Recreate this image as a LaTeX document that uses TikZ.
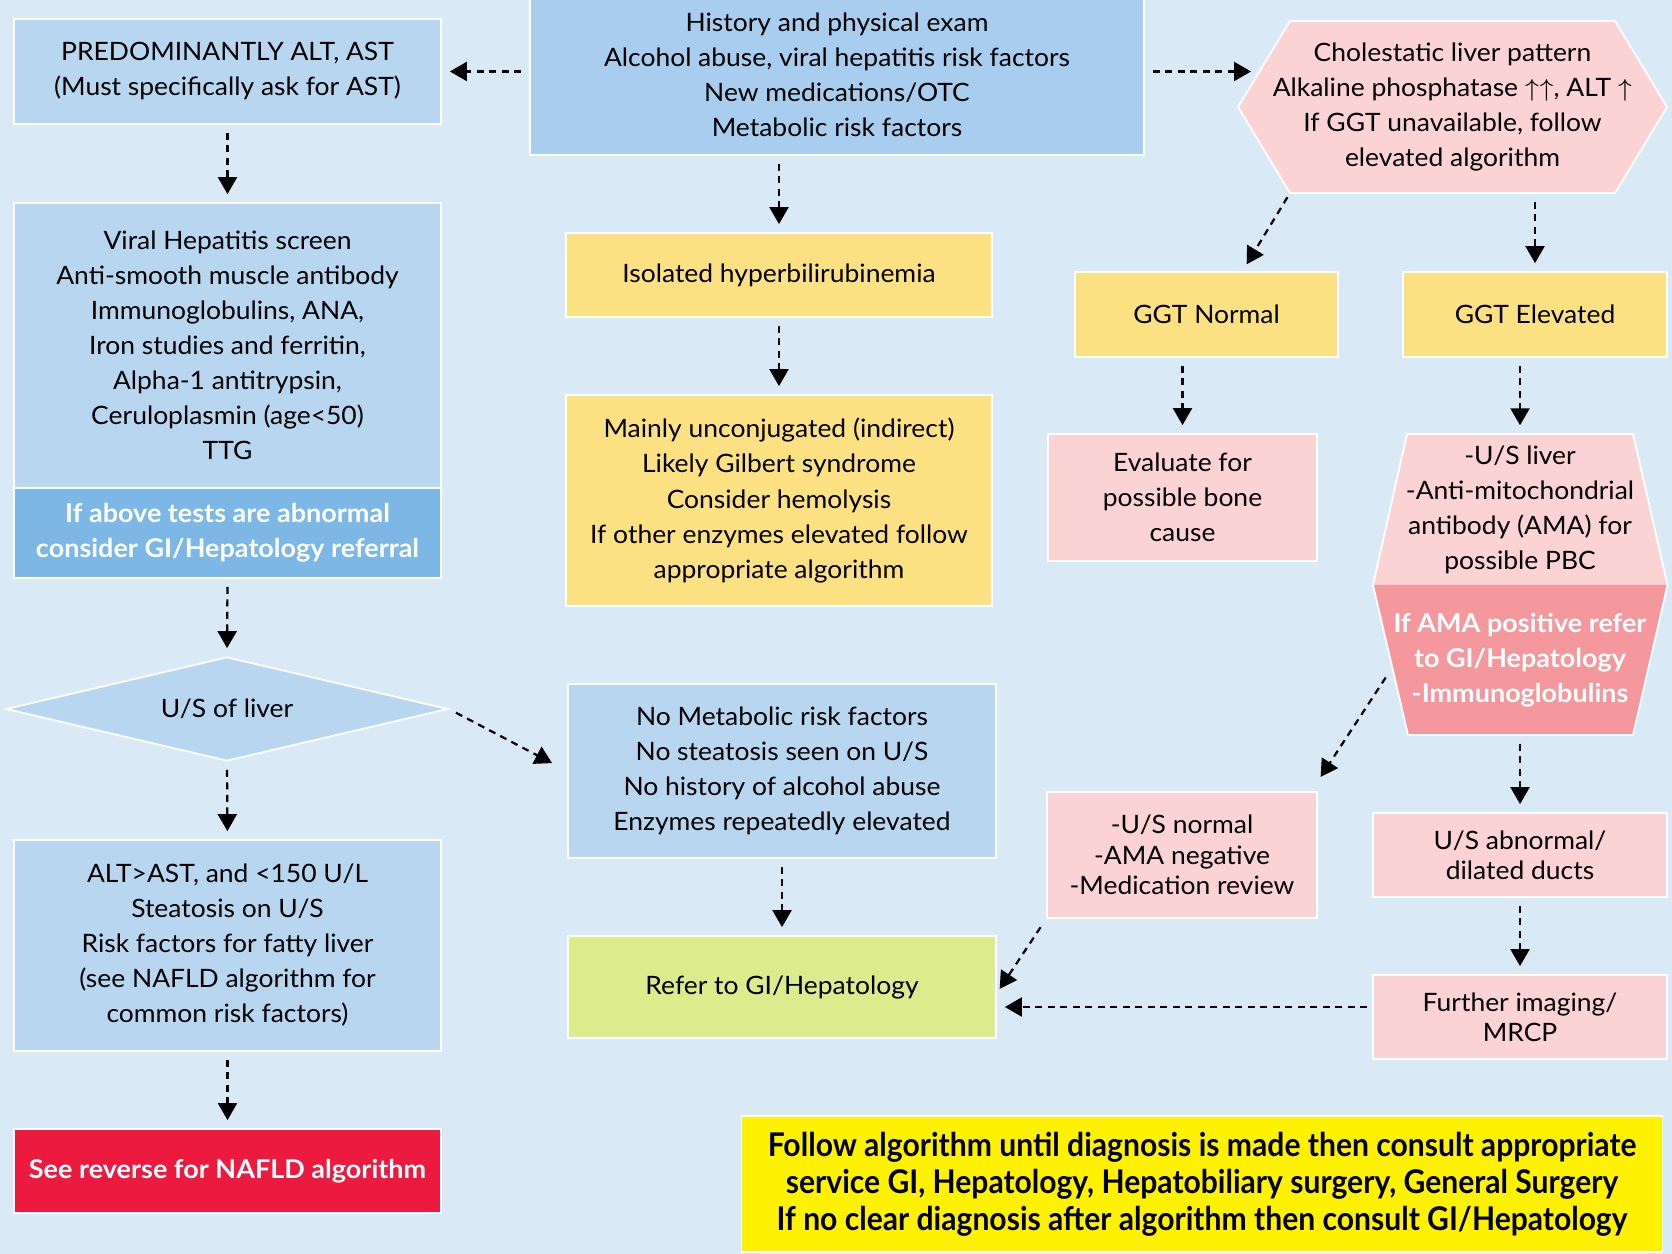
\documentclass[tikz,border=0pt]{standalone}
\usepackage{fontspec}
\setmainfont{Lato}[FakeStretch=1.045]
\newfontfamily\notefont[FakeStretch=0.92]{Lato}
\usetikzlibrary{shapes.geometric}
\usetikzlibrary{arrows.meta}
\usetikzlibrary{calc}

\definecolor{bgblue}{HTML}{DAE9F6}
\definecolor{lblue}{HTML}{B9D6F1}
\definecolor{hblue}{HTML}{A8CDEE}
\definecolor{dblue}{HTML}{7DB7E5}
\definecolor{ylw}{HTML}{FCE183}
\definecolor{pnk}{HTML}{FBD3D5}
\definecolor{dpnk}{HTML}{F4989D}
\definecolor{nafldred}{HTML}{EC1A3F}
\definecolor{grn}{HTML}{DCEB8C}
\definecolor{noteylw}{HTML}{FFF200}

\newcommand{\chartfont}{\fontsize{7.2}{9.96}\selectfont}
\newcommand{\boldfont}{\fontsize{7.35}{9.96}\selectfont\bfseries}
\newcommand{\tightfont}{\fontsize{7.2}{8.6}\selectfont}

\begin{document}
\begin{tikzpicture}[font=\chartfont]
\tikzstyle{base} = [rectangle, align=center, draw=white, line width=0.5pt, inner sep=1pt]
\tikzstyle{liver} = [base, fill=lblue]
\tikzstyle{entry} = [base, fill=hblue]
\tikzstyle{alert} = [base, fill=dblue, text=white, font=\boldfont]
\tikzstyle{bili} = [base, fill=ylw]
\tikzstyle{chole} = [base, fill=pnk]
\tikzstyle{referral} = [base, fill=grn]
\tikzstyle{decision} = [diamond, aspect=4.25, draw=white, line width=0.5pt, fill=lblue, inner sep=0pt, minimum width=4.42cm, minimum height=1.04cm]
\tikzstyle{hexlabel} = [align=center, inner sep=0pt]
\tikzstyle{flow} = [-{Triangle[length=0.17cm, width=0.19cm]}, dash pattern=on 0.07cm off 0.055cm, line width=0.022cm, shorten >=0.08cm, shorten <=0.08cm]

% Page
\useasboundingbox (0,0) rectangle (16.72,-12.54);
\fill[bgblue] (0,0) rectangle (16.72,-12.54);

% Hexagons
\coordinate (cholw) at (12.38,-1.07);
\coordinate (cholnw) at (12.90,-0.21);
\coordinate (cholne) at (16.15,-0.21);
\coordinate (chole) at (16.67,-1.07);
\coordinate (cholse) at (16.15,-1.93);
\coordinate (cholsw) at (12.90,-1.93);
\filldraw[fill=pnk, draw=white, line width=0.5pt] (cholw) -- (cholnw) -- (cholne) -- (chole) -- (cholse) -- (cholsw) -- cycle;

\coordinate (amaw) at (13.73,-5.85);
\coordinate (amanw) at (14.07,-4.34);
\coordinate (amane) at (16.33,-4.34);
\coordinate (amae) at (16.675,-5.85);
\coordinate (amase) at (16.33,-7.35);
\coordinate (amasw) at (14.08,-7.35);
\fill[pnk] (amaw) -- (amanw) -- (amane) -- (amae) -- cycle;
\fill[dpnk] (amaw) -- (amae) -- (amase) -- (amasw) -- cycle;
\draw[white, line width=0.5pt] (amaw) -- (amanw) -- (amane) -- (amae) -- (amase) -- (amasw) -- cycle;

% Left column
\node (pred) [liver, minimum width=4.27cm, minimum height=1.05cm] at (2.275,-0.715) {PREDOMINANTLY ALT, AST\\(Must specifically ask for AST)};
\node (viral) [liver, minimum width=4.27cm, minimum height=2.85cm] at (2.275,-3.455) {Viral Hepatitis screen\\Anti-smooth muscle antibody\\Immunoglobulins, ANA,\\Iron studies and ferritin,\\Alpha-1 antitrypsin,\\Ceruloplasmin (age<50)\\TTG};
\node (ifabove) [alert, minimum width=4.27cm, minimum height=0.90cm] at (2.275,-5.33) {If above tests are abnormal\\consider GI/Hepatology referral};
\node (usliv) [decision] at (2.27,-7.09) {U/S of liver};
\node (alt) [liver, minimum width=4.27cm, minimum height=2.11cm] at (2.275,-9.455) {ALT>AST, and <150 U/L\\Steatosis on U/S\\Risk factors for fatty liver\\(see NAFLD algorithm for\\common risk factors)};
\node (nafld) [alert, fill=nafldred, minimum width=4.27cm, minimum height=0.84cm] at (2.275,-11.71) {See reverse for NAFLD algorithm};

% Middle column
\node (hist) [entry, minimum width=6.14cm, minimum height=1.60cm] at (8.37,-0.75) {History and physical exam\\Alcohol abuse, viral hepatitis risk factors\\New medications/OTC\\Metabolic risk factors};
\node (iso) [bili, minimum width=4.26cm, minimum height=0.84cm] at (7.79,-2.75) {Isolated hyperbilirubinemia};
\node (mainly) [bili, minimum width=4.26cm, minimum height=2.11cm] at (7.79,-5.005) {Mainly unconjugated (indirect)\\Likely Gilbert syndrome\\Consider hemolysis\\If other enzymes elevated follow\\appropriate algorithm};
\node (nomet) [liver, minimum width=4.28cm, minimum height=1.74cm] at (7.82,-7.71) {No Metabolic risk factors\\No steatosis seen on U/S\\No history of alcohol abuse\\Enzymes repeatedly elevated};
\node (refer) [referral, minimum width=4.28cm, minimum height=1.02cm] at (7.82,-9.87) {Refer to GI/Hepatology};

% Right columns
\node (chol) [hexlabel, minimum width=4.29cm, minimum height=1.72cm] at (14.525,-1.07) {Cholestatic liver pattern\\Alkaline phosphatase $\uparrow\uparrow$, ALT $\uparrow$\\If GGT unavailable, follow\\elevated algorithm};
\node (ggtn) [bili, minimum width=2.63cm, minimum height=0.85cm] at (12.065,-3.145) {GGT Normal};
\node (ggte) [bili, minimum width=2.64cm, minimum height=0.85cm] at (15.35,-3.145) {GGT Elevated};
\node (eval) [chole, minimum width=2.69cm, minimum height=1.27cm] at (11.825,-4.975) {Evaluate for\\possible bone\\cause};
\node (amatop) [hexlabel, minimum width=2.26cm, minimum height=1.51cm] at (15.2,-5.095) {-U/S liver\\-Anti-mitochondrial\\antibody (AMA) for\\possible PBC};
\node (amabot) [hexlabel, text=white, font=\boldfont, minimum width=2.26cm, minimum height=1.50cm] at (15.2,-6.60) {If AMA positive refer\\to GI/Hepatology\\-Immunoglobulins};
\node (usn) [chole, font=\tightfont, minimum width=2.70cm, minimum height=1.26cm] at (11.82,-8.55) {-U/S normal\\-AMA negative\\-Medication review};
\node (usab) [chole, font=\tightfont, minimum width=2.94cm, minimum height=0.84cm] at (15.2,-8.55) {U/S abnormal/\\dilated ducts};
\node (further) [chole, font=\tightfont, minimum width=2.94cm, minimum height=0.84cm] at (15.2,-10.17) {Further imaging/\\MRCP};

% Note
\node (note) [base, fill=noteylw, font=\notefont\fontsize{9.3}{10.5}\selectfont\bfseries, minimum width=9.21cm, minimum height=1.36cm] at (12.02,-11.84) {Follow algorithm until diagnosis is made then consult appropriate\\service GI, Hepatology, Hepatobiliary surgery, General Surgery\\If no clear diagnosis after algorithm then consult GI/Hepatology};

% Draws
\draw[flow] (hist.west |- pred.east) -- (pred.east);
\draw[flow] (hist.east |- pred.east) -- ([xshift=0.21cm]cholw |- pred.east);
\draw[flow] (iso.north |- hist.south) -- (iso.north);
\draw[flow] (pred.south) -- (viral.north);
\draw[flow] (ifabove.south) -- (usliv.north);
\draw[flow] (usliv.south) -- (alt.north);
\draw[flow] (alt.south) -- (nafld.north);
\draw[flow, shorten >=0.17cm] (usliv.east) -- (nomet.west);
\draw[flow] (iso.south) -- (mainly.north);
\draw[flow] (nomet.south) -- (refer.north);

\draw[flow, shorten <=0.05cm] (cholsw) -- ([xshift=0.36cm]ggtn.north);
\draw[flow] (ggte.north |- chol.south) -- (ggte.north);
\draw[flow] (eval.north |- ggtn.south) -- (eval.north);
\draw[flow] (amatop.north |- ggte.south) -- (amatop.north);
\draw[flow, shorten <=0.12cm, shorten >=0.05cm] ($(amaw)!0.55!(amasw)$) -- ([yshift=0.1cm]usn.north east);
\draw[flow] (amabot.south) -- (usab.north);
\draw[flow] (usab.south) -- (further.north);
\draw[flow, shorten <=0.05cm] ([yshift=0.1cm]further.west) -- ([yshift=0.1cm]further.west -| refer.east);
\draw[flow, shorten <=0.1cm, shorten >=0.05cm] (usn.south west) -- ([yshift=-0.06cm]refer.east);
\end{tikzpicture}
\end{document}
